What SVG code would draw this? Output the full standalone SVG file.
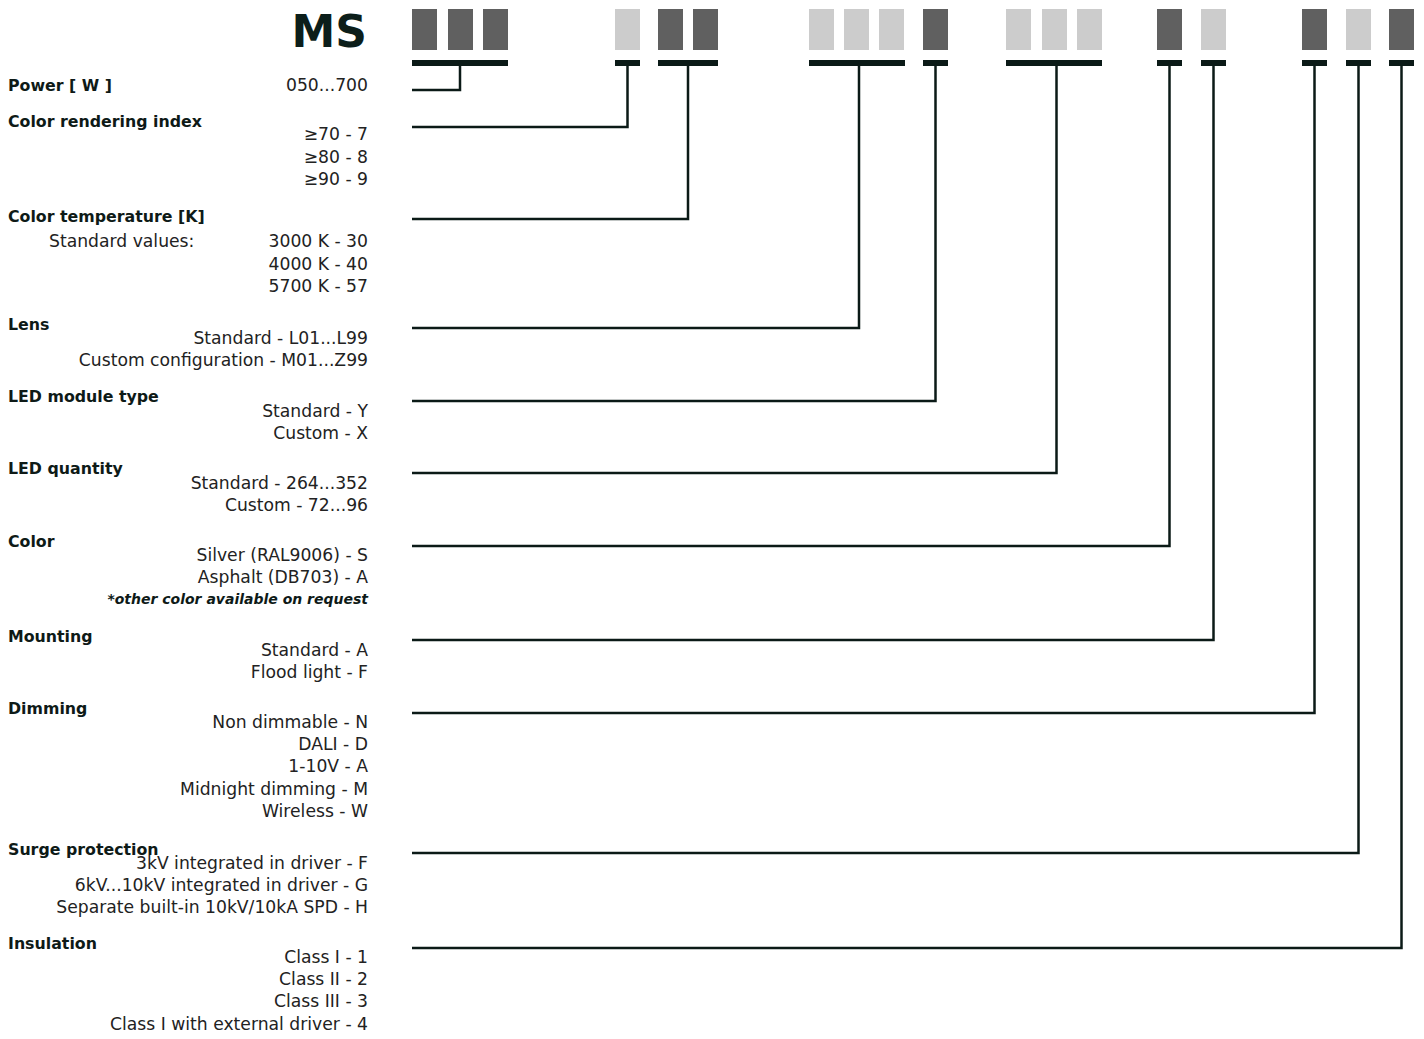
<svg xmlns="http://www.w3.org/2000/svg" width="1424" height="1039" viewBox="0 0 1424 1039">
<style>
.dk{fill:#606060}
.lt{fill:#cccccc}
.bar{fill:#0b1a17}
.lbl{font-family:"DejaVu Sans","Liberation Sans",sans-serif;font-weight:bold;font-size:15.8px;fill:#0e1a17}
.val{font-family:"DejaVu Sans","Liberation Sans",sans-serif;font-size:17.2px;fill:#222;text-anchor:end}
.sub{font-family:"DejaVu Sans","Liberation Sans",sans-serif;font-size:17.2px;fill:#222}
.note{font-family:"DejaVu Sans","Liberation Sans",sans-serif;font-size:14px;font-weight:bold;font-style:italic;fill:#0e1a17;text-anchor:end}
.title{font-family:"DejaVu Sans","Liberation Sans",sans-serif;font-size:44px;font-weight:bold;fill:#0c1e1a;text-anchor:end}
.cn{fill:none;stroke:#0b1a17;stroke-width:2.5}
</style>
<rect width="1424" height="1039" fill="#fff"/>
<g id="code">
<text class="title" x="367" y="47">MS</text>
<rect class="dk" x="412" y="9" width="25" height="41"/>
<rect class="dk" x="448" y="9" width="25" height="41"/>
<rect class="dk" x="483" y="9" width="25" height="41"/>
<rect class="lt" x="615" y="9" width="25" height="41"/>
<rect class="dk" x="658" y="9" width="25" height="41"/>
<rect class="dk" x="693" y="9" width="25" height="41"/>
<rect class="lt" x="809" y="9" width="25" height="41"/>
<rect class="lt" x="844" y="9" width="25" height="41"/>
<rect class="lt" x="879" y="9" width="25" height="41"/>
<rect class="dk" x="923" y="9" width="25" height="41"/>
<rect class="lt" x="1006" y="9" width="25" height="41"/>
<rect class="lt" x="1042" y="9" width="25" height="41"/>
<rect class="lt" x="1077" y="9" width="25" height="41"/>
<rect class="dk" x="1157" y="9" width="25" height="41"/>
<rect class="lt" x="1201" y="9" width="25" height="41"/>
<rect class="dk" x="1302" y="9" width="25" height="41"/>
<rect class="lt" x="1346" y="9" width="25" height="41"/>
<rect class="dk" x="1389" y="9" width="25" height="41"/>
<rect class="bar" x="412" y="60" width="96" height="6"/>
<rect class="bar" x="615" y="60" width="25" height="6"/>
<rect class="bar" x="658" y="60" width="60" height="6"/>
<rect class="bar" x="809" y="60" width="96" height="6"/>
<rect class="bar" x="923" y="60" width="25" height="6"/>
<rect class="bar" x="1006" y="60" width="96" height="6"/>
<rect class="bar" x="1157" y="60" width="25" height="6"/>
<rect class="bar" x="1201" y="60" width="25" height="6"/>
<rect class="bar" x="1302" y="60" width="25" height="6"/>
<rect class="bar" x="1346" y="60" width="25" height="6"/>
<rect class="bar" x="1389" y="60" width="25" height="6"/>
</g>
<g id="connectors">
<polyline class="cn" points="460,66 460,90 412,90"/>
<polyline class="cn" points="627.5,66 627.5,127 412,127"/>
<polyline class="cn" points="688,66 688,219 412,219"/>
<polyline class="cn" points="859,66 859,328 412,328"/>
<polyline class="cn" points="935.5,66 935.5,401 412,401"/>
<polyline class="cn" points="1056.5,66 1056.5,473 412,473"/>
<polyline class="cn" points="1169.5,66 1169.5,546 412,546"/>
<polyline class="cn" points="1213.5,66 1213.5,640 412,640"/>
<polyline class="cn" points="1314.5,66 1314.5,713 412,713"/>
<polyline class="cn" points="1358.5,66 1358.5,853 412,853"/>
<polyline class="cn" points="1401.5,66 1401.5,948 412,948"/>
</g>
<g id="power">
<text class="lbl" x="8" y="91">Power [ W ]</text>
<text class="val" x="368" y="91">050...700</text>
</g>
<g id="cri">
<text class="lbl" x="8" y="127">Color rendering index</text>
<text class="val" x="368" y="140">≥70 - 7</text>
<text class="val" x="368" y="163">≥80 - 8</text>
<text class="val" x="368" y="185">≥90 - 9</text>
</g>
<g id="cct">
<text class="lbl" x="8" y="222">Color temperature [K]</text>
<text class="sub" x="49" y="247">Standard values:</text>
<text class="val" x="368" y="247">3000 K - 30</text>
<text class="val" x="368" y="270">4000 K - 40</text>
<text class="val" x="368" y="292">5700 K - 57</text>
</g>
<g id="lens">
<text class="lbl" x="8" y="330">Lens</text>
<text class="val" x="368" y="344">Standard - L01...L99</text>
<text class="val" x="368" y="366">Custom configuration - M01...Z99</text>
</g>
<g id="module">
<text class="lbl" x="8" y="402">LED module type</text>
<text class="val" x="368" y="417">Standard - Y</text>
<text class="val" x="368" y="439">Custom - X</text>
</g>
<g id="quantity">
<text class="lbl" x="8" y="474">LED quantity</text>
<text class="val" x="368" y="489">Standard - 264...352</text>
<text class="val" x="368" y="511">Custom - 72...96</text>
</g>
<g id="color">
<text class="lbl" x="8" y="547">Color</text>
<text class="val" x="368" y="561">Silver (RAL9006) - S</text>
<text class="val" x="368" y="583">Asphalt (DB703) - A</text>
<text class="note" x="368" y="604">*other color available on request</text>
</g>
<g id="mounting">
<text class="lbl" x="8" y="642">Mounting</text>
<text class="val" x="368" y="656">Standard - A</text>
<text class="val" x="368" y="678">Flood light - F</text>
</g>
<g id="dimming">
<text class="lbl" x="8" y="714">Dimming</text>
<text class="val" x="368" y="728">Non dimmable - N</text>
<text class="val" x="368" y="750">DALI - D</text>
<text class="val" x="368" y="772">1-10V - A</text>
<text class="val" x="368" y="795">Midnight dimming - M</text>
<text class="val" x="368" y="817">Wireless - W</text>
</g>
<g id="surge">
<text class="lbl" x="8" y="855">Surge protection</text>
<text class="val" x="368" y="869">3kV integrated in driver - F</text>
<text class="val" x="368" y="891">6kV...10kV integrated in driver - G</text>
<text class="val" x="368" y="913">Separate built-in 10kV/10kA SPD - H</text>
</g>
<g id="insulation">
<text class="lbl" x="8" y="949">Insulation</text>
<text class="val" x="368" y="963">Class I - 1</text>
<text class="val" x="368" y="985">Class II - 2</text>
<text class="val" x="368" y="1007">Class III - 3</text>
<text class="val" x="368" y="1030">Class I with external driver - 4</text>
</g>
</svg>
